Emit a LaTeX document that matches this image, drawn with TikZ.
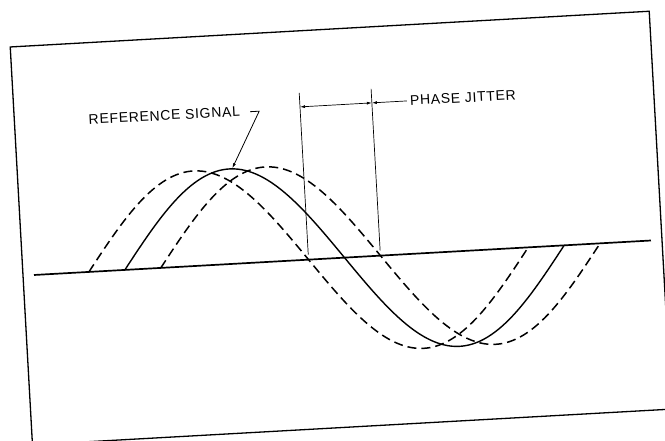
\documentclass[tikz,border=0pt]{standalone}
\usepackage{fontspec}
\setmainfont{Liberation Sans}
\usetikzlibrary{arrows.meta}
\begin{document}
\begin{tikzpicture}[x=1pt,y=1pt,
  frame/.style={line width=1.3pt},
  axisline/.style={line width=1.7pt},
  solidwave/.style={line width=1.4pt},
  dashwave/.style={line width=1.5pt, dash pattern=on 9pt off 5pt},
  guide/.style={line width=0.7pt},
  tipped/.style={-{Latex[length=5pt,width=3pt]}},
  lbl/.style={font=\fontsize{14}{16}\selectfont\addfontfeatures{LetterSpace=5}, inner sep=0pt}
]
\useasboundingbox (0,0) rectangle (665,441);
\clip (0,0) rectangle (665,441);
\fill[white] (0,0) rectangle (665,441);
\begin{scope}[shift={(34,166)}, rotate=3.2, transform shape]
  % frame
  \draw[frame] (-11,-169.5) rectangle (629,229);
  % baseline
  \coordinate (b0) at (0,0);
  \coordinate (b1) at (618,0);
  \draw[axisline] (b0) -- (b1);
  % waves
  \draw[solidwave, domain=91:531, samples=120, smooth] plot (\x, {95*sin((\x-91)/220*180)});
  \draw[dashwave, domain=55:495, samples=120, smooth] plot (\x, {95*sin((\x-55)/220*180)});
  \draw[dashwave, domain=127:567, samples=120, smooth] plot (\x, {95*sin((\x-127)/220*180)});
  % jitter guides
  \coordinate (vl0) at (275,5);
  \coordinate (vl1) at (275,167);
  \coordinate (vr0) at (347,5);
  \coordinate (vr1) at (347,167);
  \draw[guide] (vl0) -- (vl1);
  \draw[guide] (vr0) -- (vr1);
  \coordinate (dl) at (275,153);
  \coordinate (dr) at (347,153);
  \draw[guide, {Latex[length=5pt,width=3pt]}-{Latex[length=5pt,width=3pt]}] (dl) -- (dr);
  % labels
  \node[lbl] (ref) at (139,152) {REFERENCE SIGNAL};
  \node[lbl, anchor=west] (pj) at (385,153) {PHASE JITTER};
  \draw[guide, tipped] ([xshift=-3pt]pj.west) -- (dr);
  % reference leader
  \coordinate (hook0) at (225,151);
  \coordinate (hook1) at (234,151);
  \coordinate (peak) at (204,95.5);
  \draw[line width=0.8pt, tipped] (hook0) -- (hook1) -- (peak);
\end{scope}
\end{tikzpicture}
\end{document}
